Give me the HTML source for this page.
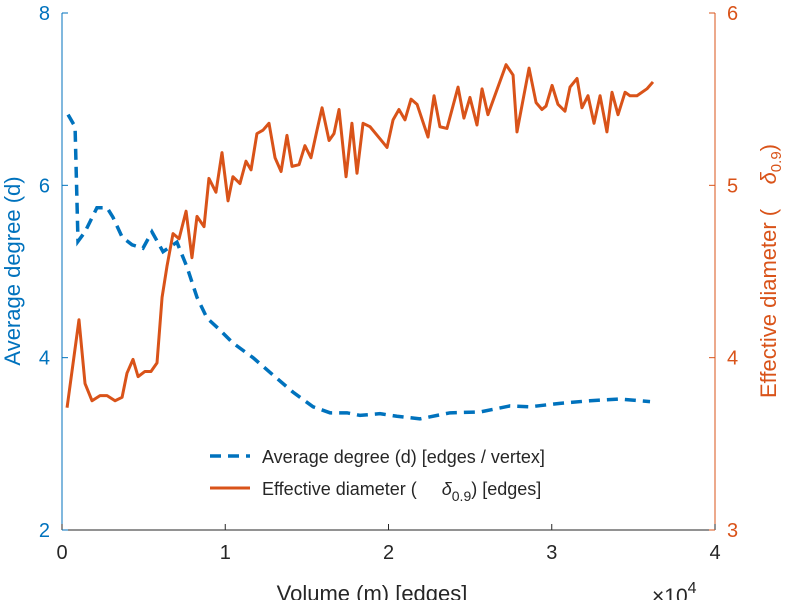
<!DOCTYPE html>
<html><head><meta charset="utf-8"><style>
body{margin:0;background:#fff;}
svg{display:block;font-family:"Liberation Sans",sans-serif;}
</style></head><body>
<svg id="chart" width="795" height="600" viewBox="0 0 795 600"></svg>
<script>
const xTicks=[0,1,2,3,4];
const yLeftTicks=[2,4,6,8];
const yRightTicks=[3,4,5,6];
const degX=[0.037,0.080,0.098,0.141,0.214,0.276,0.312,0.368,0.429,0.496,0.551,0.619,0.704,0.766,0.827,0.888,0.968,1.047,1.170,1.292,1.415,1.538,1.642,1.746,1.825,1.948,2.052,2.193,2.377,2.561,2.744,2.867,3.051,3.234,3.418,3.602];
const degY=[6.82,6.68,5.35,5.46,5.74,5.74,5.63,5.40,5.31,5.27,5.46,5.23,5.34,5.05,4.70,4.46,4.32,4.17,4.00,3.80,3.60,3.43,3.36,3.36,3.33,3.35,3.32,3.29,3.36,3.37,3.44,3.43,3.47,3.50,3.52,3.49];
const diaX=[0.031,0.104,0.141,0.184,0.233,0.276,0.325,0.368,0.398,0.435,0.466,0.508,0.545,0.582,0.613,0.643,0.680,0.717,0.760,0.796,0.827,0.870,0.900,0.943,0.980,1.017,1.047,1.090,1.127,1.158,1.194,1.231,1.268,1.305,1.342,1.378,1.409,1.452,1.488,1.525,1.562,1.593,1.636,1.666,1.697,1.740,1.776,1.807,1.844,1.887,1.948,1.991,2.028,2.064,2.101,2.138,2.175,2.242,2.279,2.315,2.358,2.426,2.462,2.499,2.542,2.573,2.609,2.720,2.763,2.787,2.861,2.904,2.940,2.965,3.002,3.038,3.081,3.112,3.155,3.185,3.222,3.259,3.296,3.338,3.369,3.406,3.449,3.479,3.522,3.583,3.620];
const diaY=[3.71,4.22,3.85,3.75,3.78,3.78,3.75,3.77,3.91,3.99,3.89,3.92,3.92,3.97,4.35,4.53,4.72,4.69,4.85,4.58,4.82,4.76,5.04,4.96,5.19,4.91,5.05,5.01,5.14,5.09,5.30,5.32,5.36,5.16,5.08,5.29,5.11,5.12,5.23,5.16,5.32,5.45,5.26,5.30,5.44,5.05,5.36,5.07,5.36,5.34,5.27,5.22,5.38,5.44,5.38,5.50,5.47,5.28,5.52,5.34,5.33,5.57,5.39,5.51,5.35,5.56,5.41,5.70,5.64,5.31,5.68,5.48,5.44,5.46,5.58,5.47,5.43,5.57,5.62,5.45,5.52,5.36,5.52,5.31,5.54,5.41,5.54,5.52,5.52,5.56,5.60];

const L=62,R=715,T=13,B=530;
const sx=v=>L+(v-0)/(4-0)*(R-L);
const syL=v=>B-(v-2)/(8-2)*(B-T);
const syR=v=>B-(v-3)/(6-3)*(B-T);
const BLUE="#0072BD",ORG="#D95319";
const svg=document.getElementById('chart');
const NS="http://www.w3.org/2000/svg";
function mk(tag,attrs,parent){const e=document.createElementNS(NS,tag);for(const k in attrs)e.setAttribute(k,attrs[k]);(parent||svg).appendChild(e);return e;}

let e;
e=mk('line',{x1:L,y1:B,x2:R,y2:B,stroke:'#262626','stroke-width':1});


e=mk('line',{x1:L,y1:T,x2:L,y2:B,stroke:BLUE,'stroke-width':1});


e=mk('line',{x1:R,y1:T,x2:R,y2:B,stroke:ORG,'stroke-width':1});



xTicks.forEach(t=>{
  const x=sx(t);
  mk('line',{x1:x,y1:B,x2:x,y2:B-6,stroke:'#262626'});
  e=mk('text',{x:x,y:B+29,'text-anchor':'middle','font-size':20,fill:'#262626'});e.textContent=t;
  
  
});
yLeftTicks.forEach(t=>{
  const y=syL(t);
  mk('line',{x1:L,y1:y,x2:L+6,y2:y,stroke:BLUE});
  e=mk('text',{x:L-12,y:y+7,'text-anchor':'end','font-size':20,fill:BLUE});e.textContent=t;
  
  
});
yRightTicks.forEach(t=>{
  const y=syR(t);
  mk('line',{x1:R,y1:y,x2:R-6,y2:y,stroke:ORG});
  e=mk('text',{x:R+12,y:y+7,'text-anchor':'start','font-size':20,fill:ORG});e.textContent=t;
  
  
});

e=mk('polyline',{points:degX.map((v,i)=>sx(v)+','+syL(degY[i])).join(' '),fill:'none',stroke:BLUE,'stroke-width':3.5,'stroke-dasharray':'11,7'});


e=mk('polyline',{points:diaX.map((v,i)=>sx(v)+','+syR(diaY[i])).join(' '),fill:'none',stroke:ORG,'stroke-width':3,'stroke-linejoin':'round'});



e=mk('text',{x:20,y:271,'text-anchor':'middle','font-size':22,fill:BLUE,transform:'rotate(-90 20 271)'});e.textContent='Average degree (d)';


e=mk('text',{x:776,y:271,'text-anchor':'middle','font-size':22,fill:ORG,transform:'rotate(-90 776 271)'});
e.innerHTML='Effective diameter (&#160;&#160;&#160;&#160;<tspan font-style="italic">δ</tspan><tspan font-size="15" dy="5">0.9</tspan><tspan dy="-5">)</tspan>';


e=mk('text',{x:372,y:601,'text-anchor':'middle','font-size':22,fill:'#262626'});e.textContent='Volume (m) [edges]';


e=mk('text',{x:652,y:603,'font-size':21,fill:'#262626'});e.innerHTML='×10<tspan font-size="16" dy="-10">4</tspan>';



const lg=mk('g',{});


e=mk('line',{x1:210,y1:456,x2:250,y2:456,stroke:BLUE,'stroke-width':3.5,'stroke-dasharray':'11,7'},lg);
e=mk('text',{x:262,y:463,'font-size':18,fill:'#262626'},lg);e.textContent='Average degree (d) [edges / vertex]';


e=mk('line',{x1:210,y1:488,x2:250,y2:488,stroke:ORG,'stroke-width':3},lg);
e=mk('text',{x:262,y:495,'font-size':18,fill:'#262626'},lg);
e.innerHTML='Effective diameter (&#160;&#160;&#160;&#160;&#160;<tspan font-style="italic">δ</tspan><tspan font-size="14" dy="6">0.9</tspan><tspan dy="-6">) [edges]</tspan>';


</script>
</body></html>
